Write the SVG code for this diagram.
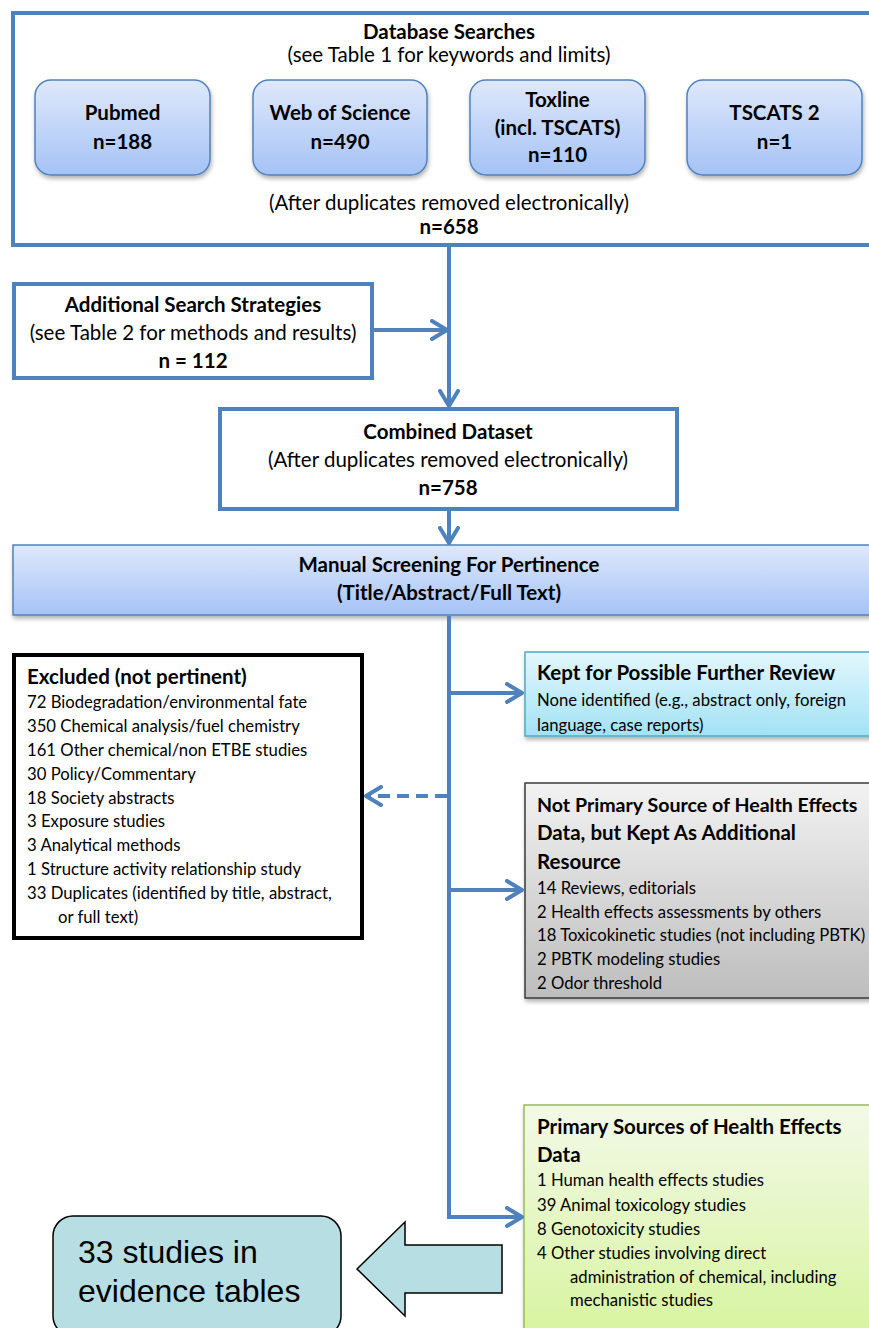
<svg xmlns="http://www.w3.org/2000/svg" width="869" height="1328" viewBox="0 0 869 1328">
<style>
  text { font-family: Lato, "Liberation Sans", sans-serif; fill: #000; }
  .b { font-weight: bold; }
  .t20 { font-size: 20.5px; }
  .t17 { font-size: 16.7px; }
  .c { text-anchor: middle; }
  .frame { fill: #fff; stroke: #4F81BD; stroke-width: 4; }
  .db { fill: url(#gBlue); stroke: #4F81BD; stroke-width: 1.5; filter: url(#sh); }
  .conn { fill: none; stroke: #4F81BD; stroke-width: 4; }
  .arr { font-family: "Liberation Sans", Arial, sans-serif; font-size: 32px; }
</style>
<defs>
  <linearGradient id="gBlue" x1="0" y1="0" x2="0" y2="1">
    <stop offset="0" stop-color="#DFE8FB"/>
    <stop offset="1" stop-color="#A5C3F6"/>
  </linearGradient>
  <linearGradient id="gCyan" x1="0" y1="0" x2="0" y2="1">
    <stop offset="0" stop-color="#E3F7FD"/>
    <stop offset="1" stop-color="#A2E2F6"/>
  </linearGradient>
  <linearGradient id="gGray" x1="0" y1="0" x2="0" y2="1">
    <stop offset="0" stop-color="#F2F2F2"/>
    <stop offset="1" stop-color="#BDBDBD"/>
  </linearGradient>
  <linearGradient id="gGreen" x1="0" y1="0" x2="0" y2="1">
    <stop offset="0" stop-color="#F3F9E8"/>
    <stop offset="1" stop-color="#D6F49C"/>
  </linearGradient>
  <filter id="sh" x="-10%" y="-10%" width="130%" height="140%">
    <feDropShadow dx="1" dy="3" stdDeviation="2" flood-color="#000" flood-opacity="0.3"/>
  </filter>
  <marker id="ah" viewBox="0 0 20 22" refX="17" refY="11" markerWidth="20" markerHeight="22" markerUnits="userSpaceOnUse" orient="auto">
    <path d="M2,2 L17,11 L2,20" fill="none" stroke="#4F81BD" stroke-width="4" stroke-linecap="round" stroke-linejoin="round"/>
  </marker>
</defs>

<g id="database-searches">
  <rect class="frame" x="13" y="13" width="870" height="232"/>
  <text class="b t20 c" x="449" y="39">Database Searches</text>
  <text class="t20 c" x="449" y="62">(see Table 1 for keywords and limits)</text>
  <text class="t20 c" x="449" y="210">(After duplicates removed electronically)</text>
  <text class="b t20 c" x="449" y="234">n=658</text>
</g>
<g id="pubmed">
  <rect class="db" x="35" y="80" width="175" height="95" rx="16"/>
  <text class="b t20 c" x="122.5" y="120">Pubmed</text>
  <text class="b t20 c" x="122.5" y="149">n=188</text>
</g>
<g id="web-of-science">
  <rect class="db" x="253" y="80" width="174" height="95" rx="16"/>
  <text class="b t20 c" x="340" y="120">Web of Science</text>
  <text class="b t20 c" x="340" y="149">n=490</text>
</g>
<g id="toxline">
  <rect class="db" x="470" y="80" width="175" height="95" rx="16"/>
  <text class="b t20 c" x="557.5" y="107">Toxline</text>
  <text class="b t20 c" x="557.5" y="135">(incl. TSCATS)</text>
  <text class="b t20 c" x="557.5" y="162">n=110</text>
</g>
<g id="tscats2">
  <rect class="db" x="687" y="80" width="175" height="95" rx="16"/>
  <text class="b t20 c" x="774.5" y="120">TSCATS 2</text>
  <text class="b t20 c" x="774.5" y="149">n=1</text>
</g>

<g id="additional-search">
  <rect class="frame" x="14" y="284" width="358" height="94"/>
  <text class="b t20 c" x="193" y="312">Additional Search Strategies</text>
  <text class="t20 c" x="193" y="340">(see Table 2 for methods and results)</text>
  <text class="b t20 c" x="193" y="368">n = 112</text>
</g>

<g id="combined-dataset">
  <rect class="frame" x="220" y="409" width="457" height="100"/>
  <text class="b t20 c" x="448" y="439">Combined Dataset</text>
  <text class="t20 c" x="448" y="467">(After duplicates removed electronically)</text>
  <text class="b t20 c" x="448" y="495">n=758</text>
</g>

<g id="manual-screening">
  <rect x="13" y="545" width="870" height="70" fill="url(#gBlue)" stroke="#4F81BD" stroke-width="1.5" filter="url(#sh)"/>
  <text class="b t20 c" x="449" y="572">Manual Screening For Pertinence</text>
  <text class="b t20 c" x="449" y="600">(Title/Abstract/Full Text)</text>
</g>

<g id="excluded">
  <rect x="14" y="655" width="348" height="283" fill="#fff" stroke="#000" stroke-width="4"/>
  <text class="b t20" x="27" y="684">Excluded (not pertinent)</text>
  <text class="t17" x="27" y="708">72 Biodegradation/environmental fate</text>
  <text class="t17" x="27" y="732">350 Chemical analysis/fuel chemistry</text>
  <text class="t17" x="27" y="756">161 Other chemical/non ETBE studies</text>
  <text class="t17" x="27" y="780">30 Policy/Commentary</text>
  <text class="t17" x="27" y="804">18 Society abstracts</text>
  <text class="t17" x="27" y="827">3 Exposure studies</text>
  <text class="t17" x="27" y="851">3 Analytical methods</text>
  <text class="t17" x="27" y="875">1 Structure activity relationship study</text>
  <text class="t17" x="27" y="899">33 Duplicates (identified by title, abstract,</text>
  <text class="t17" x="58" y="923">or full text)</text>
</g>

<g id="kept-further-review">
  <rect x="525" y="652" width="360" height="84" fill="url(#gCyan)" stroke="#4BACC6" stroke-width="1.5" filter="url(#sh)"/>
  <text class="b t20" x="537" y="680">Kept for Possible Further Review</text>
  <text class="t17" x="537" y="706">None identified (e.g., abstract only, foreign</text>
  <text class="t17" x="537" y="731">language, case reports)</text>
</g>

<g id="not-primary">
  <rect x="525" y="783" width="360" height="215" fill="url(#gGray)" stroke="#3A3A3A" stroke-width="1.5" filter="url(#sh)"/>
  <text class="b" x="537" y="812" font-size="19.6px">Not Primary Source of Health Effects</text>
  <text class="b t20" x="537" y="840">Data, but Kept As Additional</text>
  <text class="b t20" x="537" y="869">Resource</text>
  <text class="t17" x="537" y="894">14 Reviews, editorials</text>
  <text class="t17" x="537" y="918">2 Health effects assessments by others</text>
  <text class="t17" x="537" y="941">18 Toxicokinetic studies (not including PBTK)</text>
  <text class="t17" x="537" y="965">2 PBTK modeling studies</text>
  <text class="t17" x="537" y="989">2 Odor threshold</text>
</g>

<g id="primary-sources">
  <rect x="524" y="1105" width="360" height="240" fill="url(#gGreen)" stroke="#9BBB59" stroke-width="1.5" filter="url(#sh)"/>
  <text class="b t20" x="537" y="1134">Primary Sources of Health Effects</text>
  <text class="b t20" x="537" y="1162">Data</text>
  <text class="t17" x="537" y="1186">1 Human health effects studies</text>
  <text class="t17" x="537" y="1211">39 Animal toxicology studies</text>
  <text class="t17" x="537" y="1235">8 Genotoxicity studies</text>
  <text class="t17" x="537" y="1259">4 Other studies involving direct</text>
  <text class="t17" x="570" y="1283">administration of chemical, including</text>
  <text class="t17" x="570" y="1306">mechanistic studies</text>
</g>

<g id="evidence-tables">
  <rect x="53" y="1216" width="288" height="120" rx="20" fill="#B7DEE2" stroke="#000" stroke-width="1.5"/>
  <text class="arr" x="78" y="1263">33 studies in</text>
  <text class="arr" x="78" y="1302">evidence tables</text>
</g>

<g id="block-arrow">
  <path d="M502,1245 L405,1245 L405,1222 L357,1269 L405,1316 L405,1293 L502,1293 Z" fill="#B7DEE2" stroke="#000" stroke-width="1.5" stroke-linejoin="miter"/>
</g>

<g id="connectors">
  <path class="conn" d="M449,245 L449,406" marker-end="url(#ah)"/>
  <path class="conn" d="M372,330 L447,330" marker-end="url(#ah)"/>
  <path class="conn" d="M449,509 L449,543" marker-end="url(#ah)"/>
  <path class="conn" d="M449,616 L449,1217 L522,1217" marker-end="url(#ah)"/>
  <path class="conn" d="M449,693 L522,693" marker-end="url(#ah)"/>
  <path class="conn" d="M449,890 L522,890" marker-end="url(#ah)"/>
  <path class="conn" d="M447,796 L366,796" stroke-dasharray="12 7" marker-end="url(#ah)"/>
</g>
</svg>
